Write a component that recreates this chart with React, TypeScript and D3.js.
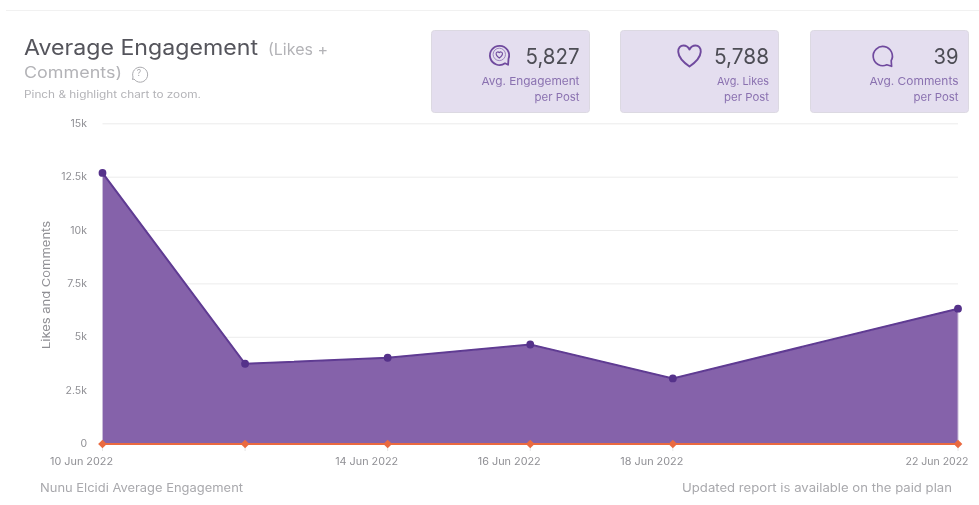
import React, { useMemo } from "react";
import * as d3 from "d3";

const dates = ["2022-06-10", "2022-06-12", "2022-06-14", "2022-06-16", "2022-06-18", "2022-06-22"];
const engagement = [12700, 3760, 4040, 4660, 3070, 6340];
const comments = [40, 38, 39, 41, 37, 39];
const yTicks = [0, 2500, 5000, 7500, 10000, 12500, 15000];
const yTickLabels = ["0", "2.5k", "5k", "7.5k", "10k", "12.5k", "15k"];
const xTickDates = ["2022-06-10", "2022-06-14", "2022-06-16", "2022-06-18", "2022-06-22"];
const xTickLabels = ["10 Jun 2022", "14 Jun 2022", "16 Jun 2022", "18 Jun 2022", "22 Jun 2022"];
const cardValues = ["5,827", "5,788", "39"];
const cardLines = [["Avg. Engagement", "per Post"], ["Avg. Likes", "per Post"], ["Avg. Comments", "per Post"]];
const cardLineWidths = [[98, 45], [52, 45], [89, 45]];
const cardValueWidths = [54, 55, 25];

const FONT = "Inter, 'Open Sans', sans-serif";
const parse = (s: string) => new Date(s + "T00:00:00Z");

const cardX = [431, 620, 810];
const cardRight = [579.5, 769, 958.5];

function Icon({ i, x, y }: { i: number; x: number; y: number }) {
  const c = "#6f4a9e";
  if (i === 0)
    return (
      <g transform={`translate(${x},${y})`} fill="none" stroke={c} strokeWidth={1.8}>
        <path d="M 5.5 8.3 A 9.6 9.6 0 1 1 9 3.8 L 8.6 9.8 Z" strokeLinejoin="round" />
        <circle r={6.2} cx={-0.2} cy={-0.6} strokeWidth={1} stroke="#9d84bf" />
        <path d="M -0.2 3 C -6 -1.2 -2.5 -4.6 -0.2 -2.4 C 2 -4.6 5.6 -1.2 -0.2 3 Z" strokeWidth={1.1} />
      </g>
    );
  if (i === 1)
    return (
      <g transform={`translate(${x},${y})`} fill="none" stroke={c} strokeWidth={1.9}>
        <path d="M 0 10.5 C -16 -0.5 -12 -10.5 -6 -10.5 C -3 -10.5 -1 -8.5 0 -6.5 C 1 -8.5 3 -10.5 6 -10.5 C 12 -10.5 16 -0.5 0 10.5 Z" strokeLinejoin="round" />
      </g>
    );
  return (
    <g transform={`translate(${x},${y})`} fill="none" stroke={c} strokeWidth={1.7}>
      <path d="M 3.8 9.3 A 9.6 9.6 0 1 1 8.2 5.2 L 8.6 10.8 Z" strokeLinejoin="round" />
    </g>
  );
}

export default function App() {
  const x = useMemo(
    () => d3.scaleUtc().domain([parse(dates[0]), parse(dates[dates.length - 1])]).range([102.5, 958]),
    []
  );
  const y = useMemo(() => d3.scaleLinear().domain([0, 15000]).range([444, 123.8]), []);
  const rows = dates.map((d, i) => ({ d: parse(d), e: engagement[i], c: comments[i] }));
  const area = d3.area<(typeof rows)[number]>().x((r) => x(r.d)).y0(y(0)).y1((r) => y(r.e))(rows)!;
  const line = d3.line<(typeof rows)[number]>().x((r) => x(r.d)).y((r) => y(r.e))(rows)!;
  const base = d3.line<(typeof rows)[number]>().x((r) => x(r.d)).y(() => y(0))(rows)!;

  return (
    <svg
      width={979}
      height={505}
      style={{ position: "absolute", left: 0, top: 0, background: "#fff", fontFamily: FONT }}
    >
      <defs>
        <filter id="soft" x="-5%" y="-20%" width="110%" height="140%">
          <feGaussianBlur stdDeviation="0.45" />
        </filter>
      </defs>
      <line x1={6} x2={979} y1={10.5} y2={10.5} stroke="#f1f1f1" />
      <g filter="url(#soft)">
        <text x={24} y={54.5} fontSize={21} fill="#55555c" textLength={234} lengthAdjust="spacingAndGlyphs">
          Average Engagement
        </text>
        <text x={268} y={54.5} fontSize={15.5} fill="#b3b3b7" textLength={60} lengthAdjust="spacingAndGlyphs">
          (Likes +
        </text>
        <text x={24} y={78} fontSize={15.5} fill="#b3b3b7" textLength={98} lengthAdjust="spacingAndGlyphs">
          Comments)
        </text>
        <g fill="none" stroke="#a9a9ad" strokeWidth={1}>
          <path d="M 134 79 L 132.5 79.5 L 133 77 A 7.5 7.5 0 1 1 134 79 Z" />
        </g>
        <text x={139} y={75.5} fontSize={8.5} fill="#a9a9ad" textAnchor="middle">?</text>
        <text x={24} y={98} fontSize={10.5} fill="#b3b3b7" textLength={177} lengthAdjust="spacingAndGlyphs">
          Pinch &amp; highlight chart to zoom.
        </text>

        {cardX.map((cx, i) => (
          <g key={i}>
            <rect x={cx + 0.5} y={30.5} width={158} height={82} rx={3} fill="#e4deef" stroke="#dcd9e2" />
            <text
              x={cardRight[i]}
              y={63.5}
              textAnchor="end"
              fontSize={22}
              fill="#4d4d55"
              textLength={cardValueWidths[i]}
              lengthAdjust="spacingAndGlyphs"
            >
              {cardValues[i]}
            </text>
            {cardLines[i].map((t, j) => (
              <text
                key={j}
                x={cardRight[i]}
                y={84.5 + j * 16.5}
                textAnchor="end"
                fontSize={11}
                fill="#8a71b0"
                textLength={cardLineWidths[i][j]}
                lengthAdjust="spacingAndGlyphs"
              >
                {t}
              </text>
            ))}
          </g>
        ))}
        <Icon i={0} x={499.5} y={55} />
        <Icon i={1} x={689.5} y={56} />
        <Icon i={2} x={883} y={55.5} />

        {yTicks.map((t, i) => (
          <g key={t}>
            {t > 0 && <line x1={102.5} x2={958} y1={y(t)} y2={y(t)} stroke="#ececec" />}
            <text x={87} y={y(t) + 3} textAnchor="end" fontSize={10.5} fill="#8f8f94">
              {yTickLabels[i]}
            </text>
          </g>
        ))}
        <text
          transform="translate(50,285) rotate(-90)"
          textAnchor="middle"
          fontSize={11}
          fill="#8f8f94"
          textLength={128}
          lengthAdjust="spacingAndGlyphs"
        >
          Likes and Comments
        </text>

        {rows.map((r, i) => (
          <line key={i} x1={x(r.d)} x2={x(r.d)} y1={444} y2={451} stroke="#e6e6e6" />
        ))}
        <path d={area} fill="#8562aa" stroke="#c9bcd9" strokeWidth={1} />
        <path d={line} fill="none" stroke="#5e3a92" strokeWidth={2} />
        {rows.map((r, i) => (
          <circle key={i} cx={x(r.d)} cy={y(r.e)} r={3.9} fill="#54308a" />
        ))}
        <path d={base} fill="none" stroke="#ea6b40" strokeWidth={2} />
        {rows.map((r, i) => (
          <path
            key={i}
            transform={`translate(${x(r.d)},${y(0)}) rotate(45)`}
            d={d3.symbol(d3.symbolSquare, 38)()!}
            fill="#ea6b40"
          />
        ))}
        {xTickDates.map((d, i) => (
          <text
            key={d}
            x={x(parse(d)) - 21}
            y={465}
            textAnchor="middle"
            fontSize={10.5}
            fill="#8f8f94"
            textLength={63}
            lengthAdjust="spacingAndGlyphs"
          >
            {xTickLabels[i]}
          </text>
        ))}
        <text x={40} y={492} fontSize={11.5} fill="#a9a9ad" textLength={203} lengthAdjust="spacingAndGlyphs">
          Nunu Elcidi Average Engagement
        </text>
        <text x={682} y={492} fontSize={11.5} fill="#a9a9ad" textLength={270} lengthAdjust="spacingAndGlyphs">
          Updated report is available on the paid plan
        </text>
      </g>
    </svg>
  );
}
